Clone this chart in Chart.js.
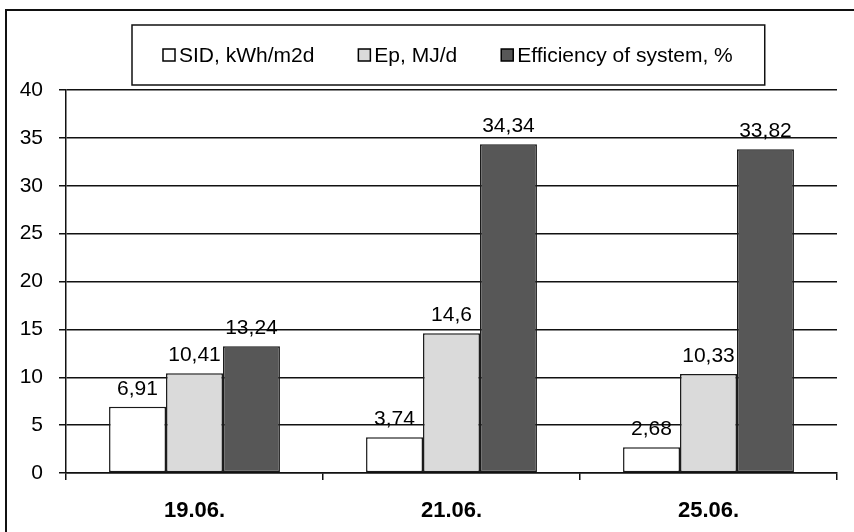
<!DOCTYPE html>
<html lang="en">

<head>
    <meta charset="UTF-8">
    <meta name="viewport" content="width=device-width, initial-scale=1.0">
    <title>Solar system efficiency</title>
    <script src="https://cdn.jsdelivr.net/npm/chart.js@4.4.0/dist/chart.umd.min.js"></script>
    <style>
        html, body { margin: 0; padding: 0; background: #fff; }
        #wrap { width: 854px; height: 532px; }
    </style>
</head>

<body>
    <div id="wrap"><canvas id="myChart" width="854" height="532"></canvas></div>
</body>
<script>
    // measured days and the three series
    const dates = ['19.06.', '21.06.', '25.06.'];
    const sid = [6.91, 3.74, 2.68];
    const ep = [10.41, 14.6, 10.33];
    const efficiency = [13.24, 34.34, 33.82];
    const seriesNames = ['SID, kWh/m2d', 'Ep, MJ/d', 'Efficiency of system, %'];
    const seriesColors = ['#ffffff', '#dadada', '#575757'];
    const yMin = 0, yMax = 40, yStep = 5;

    const FONT = 'Liberation Sans, Arial, sans-serif';

    // frame round the whole chart (top and left edges)
    const framePlugin = {
        id: 'frame',
        beforeDraw(chart) {
            const c = chart.ctx;
            c.save();
            c.fillStyle = '#fff';
            c.fillRect(0, 0, chart.width, chart.height);
            c.strokeStyle = '#111';
            c.lineWidth = 2;
            c.beginPath();
            c.moveTo(6, chart.height);
            c.lineTo(6, 10);
            c.lineTo(chart.width, 10);
            c.stroke();
            c.restore();
        }
    };

    // boxed legend with small square keys
    const boxLegend = {
        id: 'boxLegend',
        afterDraw(chart) {
            const c = chart.ctx;
            c.save();
            c.font = '21px ' + FONT;
            c.textBaseline = 'middle';
            const midY = 55;
            let x = 163;
            chart.data.datasets.forEach((ds, i) => {
                c.fillStyle = ds.backgroundColor;
                c.fillRect(x, midY - 6, 12, 12);
                c.strokeStyle = '#000';
                c.lineWidth = 1.5;
                c.strokeRect(x, midY - 6, 12, 12);
                c.fillStyle = '#000';
                c.fillText(ds.label, x + 16, midY + 1);
                x += 16 + c.measureText(ds.label).width;
                if (i < chart.data.datasets.length - 1) x += 44;
            });
            c.lineWidth = 1.5;
            c.strokeStyle = '#111';
            c.strokeRect(132, 25, x + 32 - 132, 60);
            c.restore();
        }
    };

    // value labels above each bar, decimal comma
    const valueLabels = {
        id: 'valueLabels',
        afterDatasetsDraw(chart) {
            const c = chart.ctx;
            c.save();
            c.font = '21px ' + FONT;
            c.fillStyle = '#000';
            c.textAlign = 'center';
            c.textBaseline = 'alphabetic';
            chart.data.datasets.forEach((ds, i) => {
                chart.getDatasetMeta(i).data.forEach((bar, j) => {
                    const txt = String(ds.data[j]).replace('.', ',');
                    c.fillText(txt, bar.x, bar.y - 12);
                });
            });
            c.restore();
        }
    };

    const ctx = document.getElementById('myChart').getContext('2d');
    const datasets = [sid, ep, efficiency].map((values, i) => ({
        label: seriesNames[i],
        data: values,
        backgroundColor: seriesColors[i],
        borderColor: '#1a1a1a',
        borderWidth: 1.5,
        borderSkipped: false,
        categoryPercentage: 0.665,
        barPercentage: 1.0,
    }));

    const myChart = new Chart(ctx, {
        type: 'bar',
        data: { labels: dates, datasets },
        options: {
            responsive: false,
            animation: false,
            events: [],
            layout: { padding: { top: 90, right: 17, left: 0, bottom: 0 } },
            plugins: {
                legend: { display: false },
                tooltip: { enabled: false },
            },
            scales: {
                x: {
                    offset: true,
                    afterFit: (scale) => { scale.height = 59; },
                    border: { display: true, color: '#111', width: 1.5 },
                    grid: {
                        offset: true,
                        drawOnChartArea: true,
                        color: (c) => c.index === dates.length ? '#111' : 'rgba(0,0,0,0)',
                        tickColor: '#111',
                        tickLength: 7,
                        lineWidth: 1.5,
                    },
                    ticks: {
                        color: '#000',
                        padding: 18,
                        font: { family: FONT, size: 22, weight: 'bold' },
                    },
                },
                y: {
                    min: yMin,
                    max: yMax,
                    afterFit: (scale) => { scale.width = 66; },
                    border: { display: true, color: '#111', width: 1.5 },
                    grid: {
                        color: '#111',
                        tickLength: 7,
                        lineWidth: 1.5,
                    },
                    ticks: {
                        stepSize: yStep,
                        color: '#000',
                        padding: 16,
                        font: { family: FONT, size: 21 },
                    },
                },
            },
        },
        plugins: [framePlugin, valueLabels, boxLegend],
    });
</script>

</html>
